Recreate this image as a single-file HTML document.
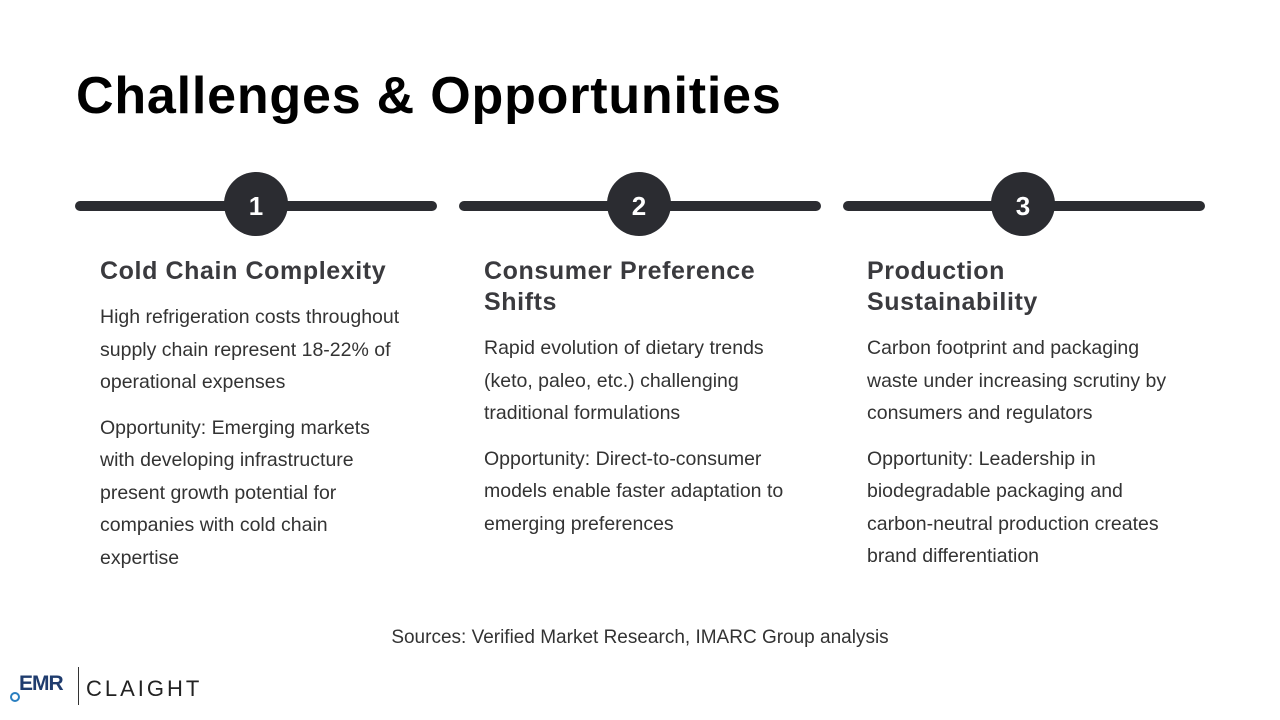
<!DOCTYPE html>
<html><head><meta charset="utf-8"><style>
body{margin:0;width:1280px;height:720px;background:#fff;position:relative;overflow:hidden;font-family:"Liberation Sans",sans-serif;color:#2b2b2f}
.t{position:absolute;left:76px;top:66px;font-size:52px;font-weight:bold;color:#000;letter-spacing:0.8px}
.bar{position:absolute;top:201px;height:10px;width:362px;background:#2b2c31;border-radius:5px}
.c{position:absolute;top:172px;width:64px;height:64px;border-radius:50%;background:#2b2c31;color:#fff;font-weight:bold;font-size:26px;text-align:center;line-height:68px}
.col{position:absolute;top:256px;width:360px;white-space:nowrap}
.col h3{margin:0 0 14px;font-size:25px;line-height:31px;color:#3a3a3e;font-weight:bold;letter-spacing:0.6px}
.col p{margin:0 0 13px;font-size:19.5px;line-height:32.5px;color:#333}
.src{position:absolute;top:627px;left:0;width:1280px;text-align:center;font-size:19px;color:#333}
</style></head><body>
<div class="t">Challenges &amp; Opportunities</div>
<div class="bar" style="left:75px"></div><div class="c" style="left:224px">1</div>
<div class="bar" style="left:459px"></div><div class="c" style="left:607px">2</div>
<div class="bar" style="left:843px"></div><div class="c" style="left:991px">3</div>
<div class="col" style="left:100px"><h3>Cold Chain Complexity</h3>
<p>High refrigeration costs throughout<br>supply chain represent 18-22% of<br>operational expenses</p>
<p>Opportunity: Emerging markets<br>with developing infrastructure<br>present growth potential for<br>companies with cold chain<br>expertise</p></div>
<div class="col" style="left:484px"><h3>Consumer Preference<br>Shifts</h3>
<p>Rapid evolution of dietary trends<br>(keto, paleo, etc.) challenging<br>traditional formulations</p>
<p>Opportunity: Direct-to-consumer<br>models enable faster adaptation to<br>emerging preferences</p></div>
<div class="col" style="left:867px"><h3>Production<br>Sustainability</h3>
<p>Carbon footprint and packaging<br>waste under increasing scrutiny by<br>consumers and regulators</p>
<p>Opportunity: Leadership in<br>biodegradable packaging and<br>carbon-neutral production creates<br>brand differentiation</p></div>
<div class="src">Sources: Verified Market Research, IMARC Group analysis</div>
<div style="position:absolute;left:10px;top:692px;width:6px;height:6px;border:2px solid #2a7fc0;border-radius:50%"></div>
<div style="position:absolute;left:19px;top:672px;font-size:21px;font-weight:bold;color:#1f3c6e;letter-spacing:-1px">EMR</div>
<div style="position:absolute;left:78px;top:667px;width:1px;height:38px;background:#333"></div>
<div style="position:absolute;left:86px;top:676px;font-size:22px;color:#222;letter-spacing:3px">CLAIGHT</div>
</body></html>
